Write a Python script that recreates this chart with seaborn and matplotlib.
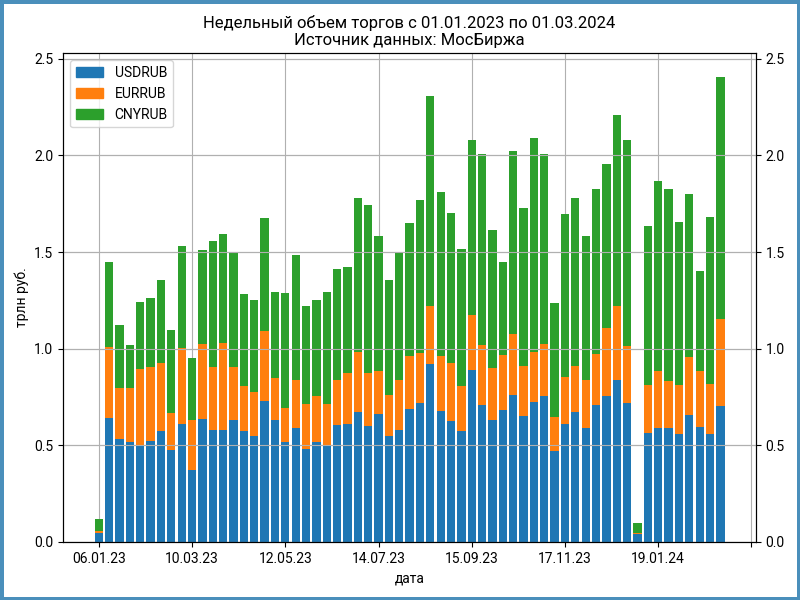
import numpy as np
import pandas as pd
import seaborn as sns
import matplotlib.pyplot as plt
from matplotlib.patches import Patch

plt.rcParams['font.family'] = ['Roboto', 'DejaVu Sans']

# weekly trade volume, trillion rub
weeks = pd.date_range("2023-01-06", periods=61, freq="7D")

usd = [0.048, 0.640, 0.531, 0.515, 0.498, 0.520, 0.572, 0.474, 0.609, 0.373,
       0.634, 0.577, 0.577, 0.629, 0.572, 0.546, 0.728, 0.629, 0.515, 0.588,
       0.479, 0.515, 0.498, 0.603, 0.609, 0.671, 0.598, 0.660, 0.546, 0.577,
       0.686, 0.717, 0.920, 0.676, 0.624, 0.572, 0.889, 0.707, 0.629, 0.681,
       0.759, 0.650, 0.723, 0.754, 0.468, 0.609, 0.671, 0.588, 0.707, 0.754,
       0.837, 0.717, 0.038, 0.562, 0.588, 0.588, 0.557, 0.655, 0.593, 0.557,
       0.702]
usd_eur = [0.054, 1.008, 0.795, 0.795, 0.894, 0.904, 0.925, 0.666, 1.003, 0.629,
           1.024, 0.904, 1.029, 0.904, 0.806, 0.775, 1.091, 0.847, 0.692, 0.837,
           0.712, 0.754, 0.712, 0.837, 0.873, 0.982, 0.873, 0.883, 0.759, 0.837,
           0.961, 0.977, 1.221, 0.961, 0.925, 0.806, 1.174, 1.018, 0.899, 0.966,
           1.075, 0.909, 0.982, 1.024, 0.645, 0.852, 0.909, 0.837, 0.971, 1.106,
           1.221, 1.013, 0.048, 0.811, 0.883, 0.831, 0.811, 0.956, 0.883, 0.816,
           1.153]
total = [0.119, 1.449, 1.120, 1.018, 1.240, 1.262, 1.355, 1.096, 1.532, 0.951,
         1.509, 1.558, 1.594, 1.496, 1.283, 1.252, 1.677, 1.293, 1.288, 1.485,
         1.221, 1.252, 1.293, 1.412, 1.423, 1.781, 1.744, 1.584, 1.355, 1.496,
         1.651, 1.770, 2.310, 1.812, 1.703, 1.516, 2.082, 2.009, 1.615, 1.449,
         2.024, 1.729, 2.092, 2.009, 1.236, 1.698, 1.781, 1.584, 1.827, 1.957,
         2.211, 2.082, 0.095, 1.635, 1.869, 1.827, 1.656, 1.801, 1.402, 1.682,
         2.408]

df = pd.DataFrame({
    "date": weeks.strftime("%d.%m.%y"),
    "USDRUB": usd,
    "EURRUB": np.array(usd_eur) - np.array(usd),
    "CNYRUB": np.array(total) - np.array(usd_eur),
})
df["cum_eur"] = df["USDRUB"] + df["EURRUB"]
df["cum_cny"] = df["cum_eur"] + df["CNYRUB"]

colors = {"USDRUB": "tab:blue", "EURRUB": "tab:orange", "CNYRUB": "tab:green"}

fig = plt.figure(figsize=(8, 6), dpi=100, linewidth=5, edgecolor="#4a8fbb")
ax = fig.add_subplot(111)

# stacked bars drawn from the top down
for col, name in [("cum_cny", "CNYRUB"), ("cum_eur", "EURRUB"), ("USDRUB", "USDRUB")]:
    sns.barplot(data=df, x="date", y=col, color=colors[name], saturation=1,
                linewidth=0, width=0.8, ax=ax)

# seaborn switches off the grid on categorical axis, put it back
ax.set_axisbelow(True)
ax.grid(True, axis="both")

tick_pos = list(range(0, 64, 9))
tick_lab = [df["date"][i] if i < len(df) else "" for i in tick_pos]
ax.set_xticks(tick_pos)
ax.set_xticklabels(tick_lab)
ax.set_xlim(-3.44, 63.44)
ax.set_ylim(0, df["cum_cny"].max() * 1.05)
ax.set_xlabel("дата")
ax.set_ylabel("трлн руб.")
ax.set_title("Недельный объем торгов с 01.01.2023 по 01.03.2024\nИсточник данных: МосБиржа")

handles = [Patch(color=colors[n], label=n) for n in ["USDRUB", "EURRUB", "CNYRUB"]]
ax.legend(handles=handles, loc="upper left")

ax2 = ax.twinx()
ax2.set_ylim(ax.get_ylim())
ax2.grid(axis="y")

fig.subplots_adjust(left=0.079, right=0.945, bottom=0.097, top=0.911)
plt.savefig("out.png", edgecolor=fig.get_edgecolor())
plt.close()
